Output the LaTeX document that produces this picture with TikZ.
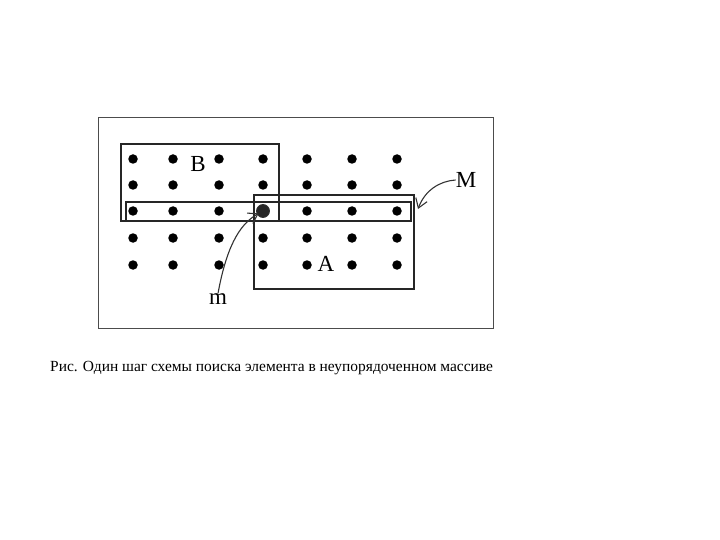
\documentclass[tikz,border=0pt]{standalone}
\usepackage{fontspec}
\setmainfont{Liberation Serif}
\usetikzlibrary{arrows.meta}
\begin{document}
\begin{tikzpicture}[x=1pt,y=-1pt,
  dot/.style={circle,fill=black,inner sep=0pt,minimum size=9.5pt},
  box/.style={draw=black!85,line width=1.4pt},
  lbl/.style={font=\fontsize{23}{23}\selectfont,inner sep=0pt},
  pointer/.style={draw=black!80,line width=1.1pt,-{Straight Barb[length=9pt,width=12pt]}}]
\useasboundingbox (0,0) rectangle (720,540);
\fill[white] (0,0) rectangle (720,540);
\draw[black!70,line width=1pt] (98,118) rectangle (493,328);
% dots
\foreach \x [count=\i] in {133,173,219,263,307,352,397}{
  \foreach \y [count=\j] in {159,185,211,238,265}{
    \node[dot] (d\i\j) at (\x,\y) {};
  }
}
\draw[black!80,fill=black!85,line width=0.8pt] (d43) circle (6.5pt);
% rectangles
\draw[box] (121,144) rectangle (279,221);
\draw[box] (254,195) rectangle (414,289);
\draw[box] (126,202) rectangle (411,221);
\coordinate (rowend) at (418,209);
% labels
\node[lbl] (B) at (198,164) {B};
\node[lbl] (A) at (326,264) {A};
\node[lbl] (M) at (466,180) {M};
\node[lbl] (m) at (218,299) {m};
\draw[pointer] (M.west) .. controls (440,181) and (425,190) .. (rowend);
\draw[pointer] (m.north) .. controls (226,250) and (238,225) .. (d43);
% caption
\node[anchor=base west,inner sep=0pt,font=\fontsize{15.45}{16}\selectfont] (cap) at (50,371)
  {Рис. Один шаг схемы поиска элемента в неупорядоченном массиве};
\end{tikzpicture}
\end{document}
